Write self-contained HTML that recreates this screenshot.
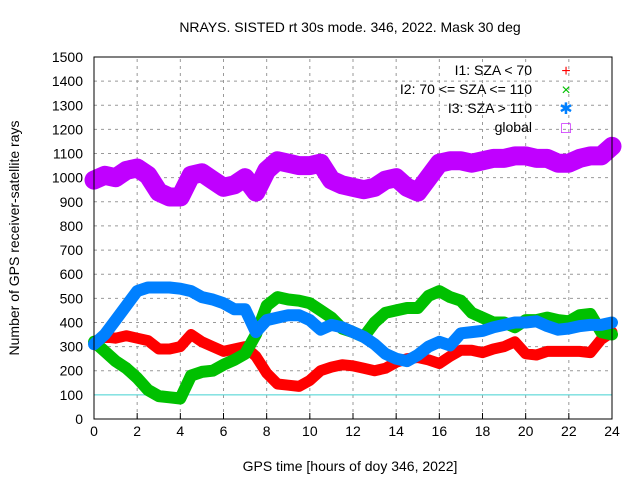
<!DOCTYPE html>
<html><head><meta charset="utf-8"><style>
body{margin:0;background:#fff}
svg text{font-family:"Liberation Sans",sans-serif;font-size:14px;fill:#000}
</style></head><body>
<svg id="chart" width="640" height="480" xmlns="http://www.w3.org/2000/svg">
<text x="350" y="32" text-anchor="middle">NRAYS. SISTED rt 30s mode. 346, 2022. Mask 30 deg</text>
<text x="350" y="471" text-anchor="middle">GPS time [hours of doy 346, 2022]</text>
<text transform="translate(19,238) rotate(-90)" text-anchor="middle">Number of GPS receiver-satellite rays</text>
<g id="grid"></g>
<g id="series"></g>
<rect x="94" y="57" width="518" height="362" fill="none" stroke="#000" stroke-width="1"/>
<g id="legend"></g>
</svg>
<script>
const hours = [0,0.5,1,1.5,2,2.5,3,3.5,4,4.5,5,5.5,6,6.5,7,7.5,8,8.5,9,9.5,10,10.5,11,11.5,12,12.5,13,13.5,14,14.5,15,15.5,16,16.5,17,17.5,18,18.5,19,19.5,20,20.5,21,21.5,22,22.5,23,23.5,24];
const i1 = [320,340,335,345,335,325,290,290,300,350,320,300,280,290,300,260,190,145,140,135,160,200,215,225,220,210,200,210,235,250,255,245,230,260,285,285,275,290,300,320,270,265,280,280,280,280,275,330,360];
const i2 = [320,280,240,210,170,120,95,90,85,180,195,200,225,245,270,350,470,505,495,490,480,450,420,375,360,340,400,440,450,460,460,510,530,505,490,440,420,400,400,380,410,410,420,410,405,430,435,360,350];
const i3 = [310,350,410,470,530,545,545,545,540,530,505,495,480,455,455,360,410,420,430,430,410,370,390,380,360,340,310,270,250,240,265,300,320,305,355,360,365,380,390,400,400,405,385,370,375,385,390,390,400];
const globalRays = [990,1010,1000,1030,1040,1010,940,920,920,1010,1020,990,960,970,1000,940,1030,1070,1060,1050,1050,1060,990,970,960,950,960,990,1000,960,940,1000,1060,1070,1070,1060,1070,1080,1080,1090,1090,1080,1080,1060,1060,1080,1090,1090,1130];
const xTicks = [0,2,4,6,8,10,12,14,16,18,20,22,24];
const yTicks = [0,100,200,300,400,500,600,700,800,900,1000,1100,1200,1300,1400,1500];
const legendLabels = ["I1: SZA < 70","I2: 70 <= SZA <= 110","I3: SZA > 110","global"];

const NS="http://www.w3.org/2000/svg";
const X0=94,X1=612,Y0=419,Y1=57;
const xs=h=>X0+(h/24)*(X1-X0);
const ys=v=>Y0-(v/1500)*(Y0-Y1);
function mk(t,a,p){const e=document.createElementNS(NS,t);for(const k in a)e.setAttribute(k,a[k]);p.appendChild(e);return e;}
const grid=document.getElementById('grid');
xTicks.forEach(t=>{
  const x=xs(t);
  if(t>0&&t<24){const l=mk('line',{x1:x,x2:x,y1:Y0,y2:Y1,stroke:'#999','stroke-dasharray':'3,4'},grid);
  
  }
  const tk=mk('line',{x1:x,x2:x,y1:Y0,y2:Y0-6,stroke:'#000'},grid);
  
  
  const tx=mk('text',{x:x,y:Y0+17,'text-anchor':'middle'},grid);tx.textContent=t;
  
  
});
yTicks.forEach(t=>{
  const y=ys(t);
  if(t>0&&t<1500){const l=mk('line',{x1:X0,x2:X1,y1:y,y2:y,stroke:t===100?'#40d0d0':'#999','stroke-dasharray':t===100?'none':'3,4'},grid);
  
  }
  const tx=mk('text',{x:X0-11,y:y+5,'text-anchor':'end'},grid);tx.textContent=t;
  
  
});
const ser=document.getElementById('series');
const defs=[[i1,'#ff0000',11,'series-i1'],[i2,'#00c000',12,'series-i2'],[i3,'#0080ff',12,'series-i3'],[globalRays,'#c000ff',19,'series-global']];
defs.forEach(([d,c,w,n])=>{
  const pts=hours.map((h,i)=>xs(h).toFixed(1)+','+ys(d[i]).toFixed(1)).join(' ');
  const pl=mk('polyline',{points:pts,fill:'none',stroke:c,'stroke-width':w,'stroke-linejoin':'round','stroke-linecap':'round'},ser);
  
  
});
const lg=document.getElementById('legend');
const cols=['#ff0000','#00c000','#0080ff','#c000ff'];
const syms=['+','×','✱','□'];
legendLabels.forEach((s,i)=>{
  const y=75+i*19;
  const t=mk('text',{x:532,y:y,'text-anchor':'end'},lg);t.textContent=s;
  
  
  const m=mk('text',{x:566,y:y+1,'text-anchor':'middle',fill:cols[i],'font-size':'16'},lg);m.textContent=syms[i];
  m.style.fill=cols[i];
  m.style.fontSize='16px';
  
  
});
</script>
</body></html>
